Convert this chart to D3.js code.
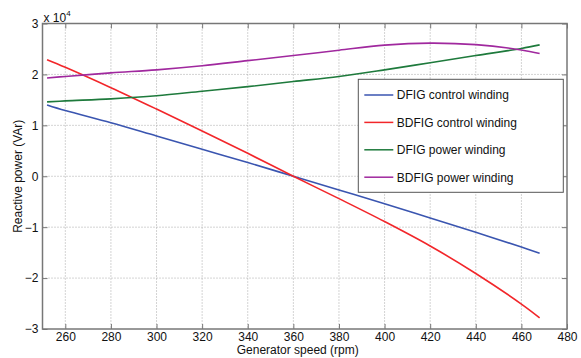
<!DOCTYPE html>
<html>
<head>
<meta charset="utf-8">
<script src="https://cdn.jsdelivr.net/npm/d3@7"></script>
<style>
  body { margin: 0; background: #fff; }
  svg text { font-family: "Liberation Sans", Arial, sans-serif; fill: #111; }
</style>
</head>
<body>
<div id="chart"></div>
<script>
// generator speed (rpm) at which each series was read
var speeds = [252, 260, 280, 300, 320, 340, 360, 380, 400, 420, 440, 460, 468];
// reactive power, units of 1e4 VAr
var dfigControl  = [1.40, 1.29, 1.05, 0.79, 0.53, 0.27, 0.00, -0.27, -0.54, -0.82, -1.10, -1.39, -1.51];
var bdfigControl = [2.29, 2.14, 1.74, 1.32, 0.89, 0.45, 0.00, -0.44, -0.89, -1.37, -1.91, -2.51, -2.78];
var dfigPower    = [1.46, 1.48, 1.52, 1.58, 1.67, 1.76, 1.86, 1.96, 2.09, 2.23, 2.37, 2.51, 2.58];
var bdfigPower   = [1.93, 1.96, 2.03, 2.09, 2.17, 2.27, 2.37, 2.475, 2.575, 2.615, 2.585, 2.48, 2.41];

var seriesNames = ['DFIG control winding', 'BDFIG control winding', 'DFIG power winding', 'BDFIG power winding'];
var seriesColors = ['#3a55b0', '#f2262a', '#1e7a3c', '#a0289e'];
var xTicks = [260, 280, 300, 320, 340, 360, 380, 400, 420, 440, 460, 480];
var yTicks = [-3, -2, -1, 0, 1, 2, 3];

var W = 581, H = 358;
var margin = { top: 23.5, right: 14, bottom: 29, left: 42.5 };
var width = W - margin.left - margin.right;
var height = H - margin.top - margin.bottom;

var svg = d3.select('#chart').append('svg')
  .attr('width', W)
  .attr('height', H);

var g = svg.append('g')
  .attr('transform', 'translate(' + margin.left + ',' + margin.top + ')');

var x = d3.scaleLinear().domain([250, 480]).range([0, width]);
var y = d3.scaleLinear().domain([-3, 3]).range([height, 0]);

// dotted grid
g.selectAll('.vgrid')
  .data(xTicks.filter(function (d) { return d < 480; }))
  .enter().append('line')
  .attr('x1', function (d) { return x(d); })
  .attr('x2', function (d) { return x(d); })
  .attr('y1', 0).attr('y2', height)
  .attr('stroke', '#a8a8a8').attr('stroke-dasharray', '1,2');

g.selectAll('.hgrid')
  .data(yTicks.filter(function (d) { return d > -3 && d < 3; }))
  .enter().append('line')
  .attr('y1', function (d) { return y(d); })
  .attr('y2', function (d) { return y(d); })
  .attr('x1', 0).attr('x2', width)
  .attr('stroke', '#a8a8a8').attr('stroke-dasharray', '1,2');

// axes with inward ticks
var axisColor = '#777';
function styleAxis(sel, showText) {
  sel.select('.domain').remove();
  sel.selectAll('.tick line').attr('stroke', axisColor);
  sel.selectAll('.tick text').style('font-size', '12px');
  if (!showText) sel.selectAll('.tick text').remove();
}

g.append('g')
  .attr('transform', 'translate(0,' + height + ')')
  .call(d3.axisBottom(x).tickValues(xTicks).tickSize(-5).tickPadding(3).tickFormat(d3.format('d')))
  .call(function (s) { styleAxis(s, true); });

g.append('g')
  .call(d3.axisTop(x).tickValues(xTicks).tickSize(-5))
  .call(function (s) { styleAxis(s, false); });

g.append('g')
  .call(d3.axisLeft(y).tickValues(yTicks).tickSize(-5).tickPadding(4).tickFormat(d3.format('d')))
  .call(function (s) { styleAxis(s, true); });

g.append('g')
  .attr('transform', 'translate(' + width + ',0)')
  .call(d3.axisRight(y).tickValues(yTicks).tickSize(-5))
  .call(function (s) { styleAxis(s, false); });

g.append('rect')
  .attr('width', width).attr('height', height)
  .attr('fill', 'none').attr('stroke', axisColor).attr('stroke-width', 1.5);

// series lines
var allSeries = [dfigControl, bdfigControl, dfigPower, bdfigPower];
var line = d3.line()
  .x(function (d, i) { return x(speeds[i]); })
  .y(function (d) { return y(d); })
  .curve(d3.curveCatmullRom);

g.selectAll('.series')
  .data(allSeries)
  .enter().append('path')
  .attr('class', 'series')
  .attr('d', line)
  .attr('fill', 'none')
  .attr('stroke', function (d, i) { return seriesColors[i]; })
  .attr('stroke-width', 1.6);

// legend
var legend = g.append('g')
  .attr('transform', 'translate(315.8,55.8)');

legend.append('rect')
  .attr('width', 205).attr('height', 113)
  .attr('fill', '#fff').attr('stroke', '#555').attr('stroke-width', 1);

var item = legend.selectAll('.item')
  .data(seriesNames)
  .enter().append('g')
  .attr('transform', function (d, i) { return 'translate(0,' + (15.7 + i * 27.4) + ')'; });

item.append('line')
  .attr('x1', 6).attr('x2', 35)
  .attr('stroke', function (d, i) { return seriesColors[i]; })
  .attr('stroke-width', 1.5);

item.append('text')
  .attr('x', 38.5).attr('dy', '0.36em')
  .style('font-size', '12px')
  .text(function (d) { return d; });

// axis titles
svg.append('text')
  .attr('x', margin.left + width / 2 - 7)
  .attr('y', 354)
  .attr('text-anchor', 'middle')
  .style('font-size', '12px')
  .text('Generator speed (rpm)');

svg.append('text')
  .attr('transform', 'translate(22,' + (margin.top + height / 2) + ') rotate(-90)')
  .attr('text-anchor', 'middle')
  .style('font-size', '12px')
  .text('Reactive power (VAr)');

// exponent label
var expo = svg.append('text')
  .attr('x', margin.left + 1)
  .attr('y', 22)
  .style('font-size', '12px');
expo.append('tspan').text('x 10');
expo.append('tspan').attr('dy', -6).style('font-size', '8px').text('4');
</script>
</body>
</html>
